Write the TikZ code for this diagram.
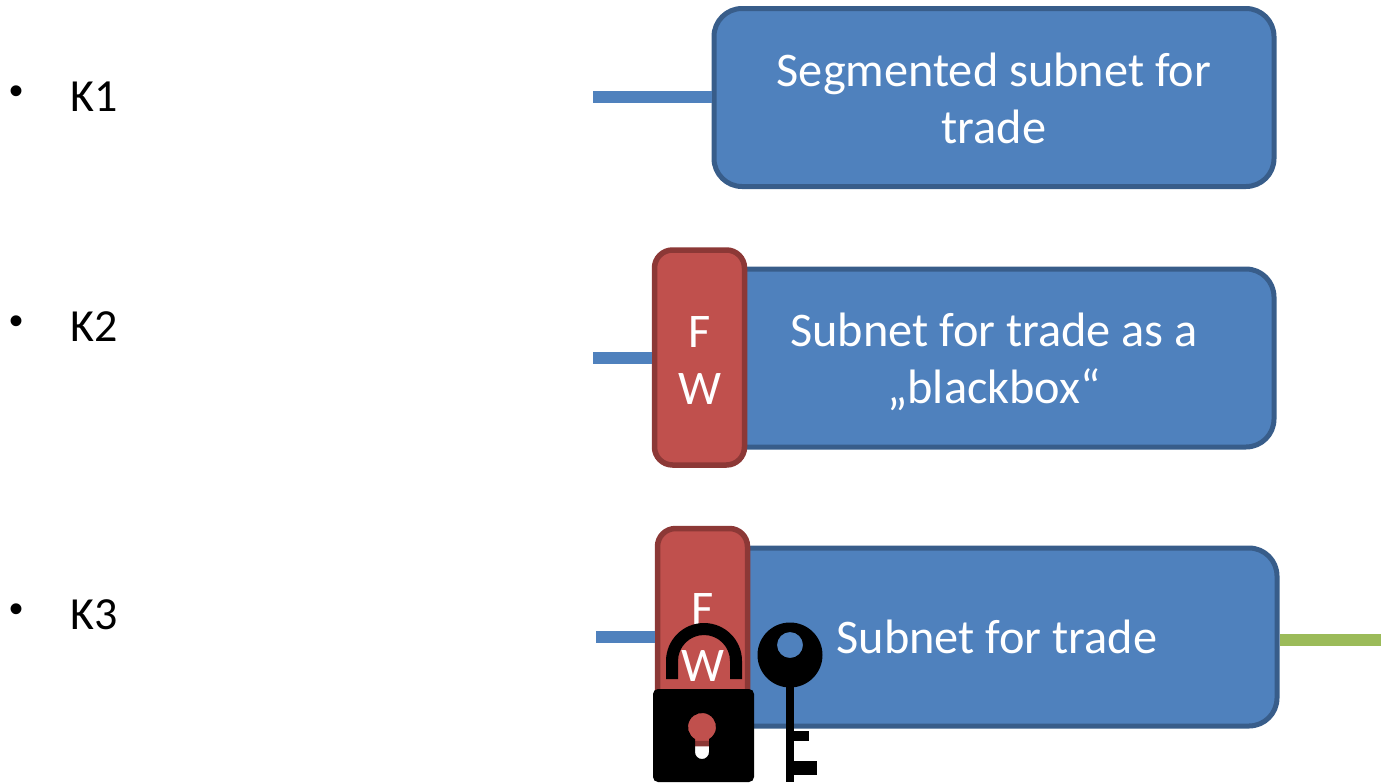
\documentclass[tikz,border=0pt]{standalone}
\usepackage{fontspec}
\setmainfont{Carlito}
\newfontfamily\bulletfont{Liberation Sans}
\definecolor{bluefill}{HTML}{4F81BD}
\definecolor{bluestroke}{HTML}{385D8A}
\definecolor{redfill}{HTML}{C0504D}
\definecolor{redstroke}{HTML}{8C3836}
\definecolor{greenline}{HTML}{9BBB59}
\tikzset{
  subnet/.style={draw=bluestroke,fill=bluefill,line width=5pt,rounded corners=28pt,inner sep=0pt,outer sep=0pt,
    minimum width=560pt,minimum height=178pt},
  fwbox/.style={draw=redstroke,fill=redfill,line width=5.5pt,rounded corners=18pt,inner sep=0pt,outer sep=0pt,
    minimum width=90pt,minimum height=215pt},
  boxtext/.style={text=white,align=center,inner sep=0pt,outer sep=0pt,font=\fontsize{48.3}{57}\selectfont},
  bulletlabel/.style={anchor=west,inner sep=0pt,font=\fontsize{46}{54}\selectfont},
  bulletmark/.style={anchor=center,inner sep=0pt,font=\bulletfont\fontsize{40}{40}\selectfont},
  link/.style={draw=bluefill,line width=12pt,shorten >=2.5pt},
  uplink/.style={draw=greenline,line width=12pt,shorten <=3pt}
}
\begin{document}
\begin{tikzpicture}[x=1pt,y=-1pt]
\path[use as bounding box] (0,0) rectangle (1381,782);
\clip (0,0) rectangle (1381,782);
% row 1
\coordinate (w1) at (593,97);
\node[subnet,label={[boxtext,yshift=-1pt]center:{Segmented subnet for\\trade}}] (s1) at (994,97.5) {};
\draw[link] (w1) -- (w1 -| s1.west);
% row 2
\coordinate (w2) at (593,358);
\node[subnet,label={[boxtext,yshift=-3.5pt]center:{Subnet for trade as a\\„blackbox“}}] (s2) at (994,358) {};
\node[fwbox,label={[boxtext,yshift=-3pt]center:{F\\W}}] (f2) at (699.5,357.5) {};
\draw[link] (w2) -- (w2 -| f2.west);
% row 3
\coordinate (w3) at (596,637);
\coordinate (e3) at (1381,640);
\node[subnet,label={[boxtext]center:{Subnet for trade}}] (s3) at (997,637) {};
\node[fwbox,label={[boxtext,yshift=-1pt]center:{F\\W}}] (f3) at (702.5,636) {};
\draw[link] (w3) -- (w3 -| f3.west);
\draw[uplink] (s3.east |- e3) -- (e3);
% bullets
\node[bulletmark] (b1) at (17,95) {•};
\node[bulletlabel] (k1) at (70,97) {K1};
\node[bulletmark] (b2) at (17,325) {•};
\node[bulletlabel] (k2) at (70,327) {K2};
\node[bulletmark] (b3) at (17,613) {•};
\node[bulletlabel] (k3) at (70,615) {K3};
% padlock
\fill[black] (666,679) -- (666,661) arc[start angle=180,end angle=360,radius=38] -- (742,679) -- (730,679)
  -- (730,661) arc[start angle=0,end angle=-180,radius=26] -- (678,679) -- cycle;
\fill[black,even odd rule]
  [rounded corners=5pt] (653,689) rectangle (754,782)
  [sharp corners] (695,739.1) arc[start angle=120,end angle=420,radius=14] -- (709,752)
  arc[start angle=0,end angle=180,radius=7] -- cycle;
% key
\fill[black,even odd rule] (790,655) circle[radius=32.5] (790,645) circle[radius=13];
\fill[black] (786,680) rectangle (794,782);
\fill[black] (790,731) rectangle (809,741);
\fill[black] (790,761) rectangle (817,775);
\end{tikzpicture}
\end{document}
